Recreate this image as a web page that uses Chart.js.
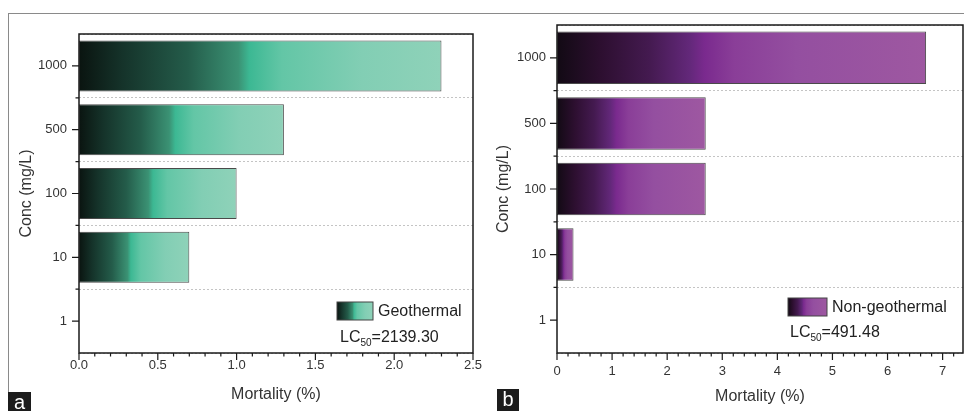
<!DOCTYPE html>
<html>
<head>
<meta charset="utf-8">
<script src="https://cdn.jsdelivr.net/npm/chart.js@4.4.1/dist/chart.umd.min.js"></script>
<style>
  html, body { margin: 0; padding: 0; background: #fff; }
  body { width: 964px; height: 411px; position: relative; overflow: hidden; font-family: "Liberation Sans", Arial, sans-serif; }
  .box { position: absolute; }
  .frame-top { position: absolute; left: 8px; top: 13px; width: 956px; height: 0; border-top: 1.5px solid #8a8a8a; }
  .frame-left { position: absolute; left: 8px; top: 13px; width: 0; height: 380px; border-left: 1.5px solid #8a8a8a; }
  .tag { position: absolute; background: #1c1c1c; color: #fff; font-size: 20px; line-height: 20px; text-align: center; }
</style>
</head>
<body>
<div class="frame-top"></div>
<div class="frame-left"></div>
<div class="box" style="left:0;top:0;width:490px;height:411px"><canvas id="chartA"></canvas></div>
<div class="box" style="left:480px;top:0;width:484px;height:411px"><canvas id="chartB"></canvas></div>
<div class="tag" style="left:8px;top:392px;width:23px;height:19px">a</div>
<div class="tag" style="left:497px;top:389px;width:22px;height:22px;line-height:21px">b</div>

<script>
// concentrations, top to bottom
const concLabels = ['1000', '500', '100', '10', '1'];
const geothermal = [2.3, 1.3, 1.0, 0.7, 0];
const nonGeothermal = [6.7, 2.7, 2.7, 0.3, 0];

const greenStops = [
  [0, '#0a1410'], [0.12, '#15332a'], [0.3, '#245c4a'], [0.44, '#3b9274'],
  [0.47, '#3cb893'], [0.56, '#63c6a6'], [0.78, '#82ceb4'], [1, '#8fd2b9']
];
const purpleStops = [
  [0, '#120a14'], [0.12, '#2d0f30'], [0.25, '#441a50'], [0.36, '#63287a'],
  [0.4, '#7a2a8e'], [0.48, '#8a3e98'], [0.65, '#944fa0'], [1, '#9e58a1']
];

function makeGradient(c, x0, x1, stops) {
  const g = c.createLinearGradient(x0, 0, x1, 0);
  stops.forEach(function(s) { g.addColorStop(s[0], s[1]); });
  return g;
}

function barFill(stops) {
  return function(ctx) {
    const xs = ctx.chart.scales.x;
    const v = ctx.raw;
    if (!xs || typeof v !== 'number') return stops[0][1];
    const x0 = xs.getPixelForValue(0);
    const x1 = xs.getPixelForValue(v);
    if (!(x1 > x0 + 0.5)) return stops[stops.length - 1][1];
    return makeGradient(ctx.chart.ctx, x0, x1, stops);
  };
}

// frame box + outward tick marks
const frameTicks = {
  id: 'frameTicks',
  afterDraw(chart, args, opts) {
    const c = chart.ctx, a = chart.chartArea;
    const xs = chart.scales.x, ys = chart.scales.y;
    c.save();
    c.strokeStyle = '#1a1a1a';
    c.lineWidth = 1.5;
    c.strokeRect(a.left, a.top, a.right - a.left, a.bottom - a.top);
    c.lineWidth = 1.2;
    c.beginPath();
    // x ticks
    const n = Math.round(xs.max / opts.minor);
    for (let i = 0; i <= n; i++) {
      const v = i * opts.minor;
      if (v > xs.max + 1e-9) break;
      const px = xs.getPixelForValue(v);
      const major = Math.abs(v / opts.major - Math.round(v / opts.major)) < 1e-6;
      c.moveTo(px, a.bottom);
      c.lineTo(px, a.bottom + (major ? 7 : 3.5));
    }
    // y ticks: major at categories, minor at boundaries
    const step = (a.bottom - a.top) / concLabels.length;
    for (let i = 0; i < concLabels.length; i++) {
      const py = ys.getPixelForValue(i);
      c.moveTo(a.left, py);
      c.lineTo(a.left - 7, py);
      if (i > 0) {
        c.moveTo(a.left, py - step / 2);
        c.lineTo(a.left - 3.5, py - step / 2);
      }
    }
    c.stroke();
    c.restore();
  }
};

// gradient legend + LC50 note
const panelLegend = {
  id: 'panelLegend',
  afterDraw(chart, args, o) {
    const c = chart.ctx;
    c.save();
    c.fillStyle = makeGradient(c, o.x, o.x + o.w, o.stops);
    c.fillRect(o.x, o.y, o.w, o.h);
    c.strokeStyle = '#444';
    c.lineWidth = 1;
    c.strokeRect(o.x, o.y, o.w, o.h);
    c.fillStyle = '#222';
    c.textBaseline = 'middle';
    c.font = '16px "Liberation Sans", Arial, sans-serif';
    c.fillText(o.label, o.x + o.w + 5, o.y + o.h / 2 + 1);
    let tx = o.lcX;
    c.fillText('LC', tx, o.lcY);
    tx += c.measureText('LC').width;
    c.font = '10px "Liberation Sans", Arial, sans-serif';
    c.fillText('50', tx, o.lcY + 5);
    tx += c.measureText('50').width;
    c.font = '16px "Liberation Sans", Arial, sans-serif';
    c.fillText('=' + o.lc, tx, o.lcY);
    c.restore();
  }
};

function buildChart(id, values, stops, cfg) {
  return new Chart(document.getElementById(id), {
    type: 'bar',
    data: {
      labels: concLabels,
      datasets: [{
        data: values,
        backgroundColor: barFill(stops),
        borderColor: '#4a4a4a',
        borderWidth: function(ctx) { return ctx.raw ? 1 : 0; },
        borderSkipped: false,
        barPercentage: 0.8,
        categoryPercentage: 1
      }]
    },
    options: {
      indexAxis: 'y',
      responsive: true,
      maintainAspectRatio: false,
      animation: false,
      layout: { padding: cfg.padding },
      scales: {
        x: {
          min: 0,
          max: cfg.xMax,
          grid: { display: false, drawTicks: false },
          border: { display: false },
          ticks: {
            stepSize: cfg.major,
            includeBounds: false,
            padding: cfg.xPad,
            color: '#333',
            font: { size: 13, family: '"Liberation Sans", Arial, sans-serif' },
            callback: cfg.fmt
          },
          title: {
            display: true,
            text: 'Mortality (%)',
            color: '#333',
            font: { size: 16, family: '"Liberation Sans", Arial, sans-serif' },
            padding: { top: 0, bottom: cfg.xTitlePad }
          },
          afterFit: function(s) { s.height = cfg.xHeight; }
        },
        y: {
          grid: {
            offset: true,
            drawTicks: false,
            color: '#c4c4c4',
            lineWidth: 1
          },
          border: { display: false, dash: [2, 2] },
          ticks: {
            padding: cfg.yPad,
            color: '#333',
            font: { size: 13, family: '"Liberation Sans", Arial, sans-serif' }
          },
          title: {
            display: true,
            text: 'Conc (mg/L)',
            color: '#333',
            font: { size: 16, family: '"Liberation Sans", Arial, sans-serif' },
            padding: { top: cfg.yTitlePad, bottom: 0 }
          },
          afterFit: function(s) { s.width = cfg.yWidth; }
        }
      },
      plugins: {
        legend: { display: false },
        tooltip: { enabled: false },
        frameTicks: { major: cfg.major, minor: cfg.minor },
        panelLegend: cfg.legend
      }
    },
    plugins: [frameTicks, panelLegend]
  });
}

buildChart('chartA', geothermal, greenStops, {
  padding: { top: 34, right: 17, left: 0, bottom: 0 },
  xMax: 2.5, major: 0.5, minor: 0.1,
  fmt: function(v) { return Number(v).toFixed(1); },
  xHeight: 58, yWidth: 79, yPad: 12, xPad: 5,
  xTitlePad: 6.5, yTitlePad: 16.5,
  legend: { x: 337, y: 302, w: 36, h: 18, stops: greenStops, label: 'Geothermal',
            lcX: 340, lcY: 338, lc: '2139.30' }
});

buildChart('chartB', nonGeothermal, purpleStops, {
  padding: { top: 25, right: 1, left: 0, bottom: 0 },
  xMax: 7.37, major: 1, minor: 0.2,
  fmt: function(v) { return String(v); },
  xHeight: 58, yWidth: 77, yPad: 11, xPad: 11,
  xTitlePad: 5, yTitlePad: 13.5,
  legend: { x: 308, y: 298, w: 39, h: 18, stops: purpleStops, label: 'Non-geothermal',
            lcX: 310, lcY: 333, lc: '491.48' }
});
</script>
</body>
</html>
